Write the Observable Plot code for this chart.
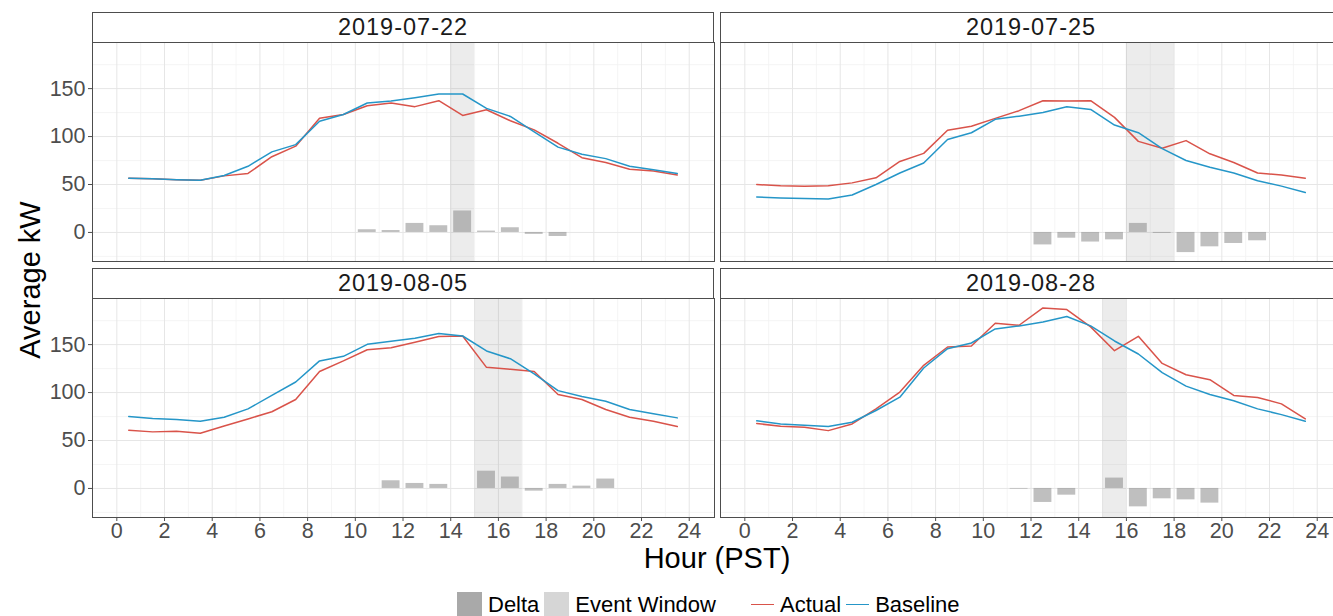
<!DOCTYPE html>
<html>
<head>
<meta charset="utf-8">
<script src="https://cdn.jsdelivr.net/npm/d3@7"></script>
<script src="https://cdn.jsdelivr.net/npm/@observablehq/plot@0.6"></script>
<style>
html, body { margin: 0; padding: 0; overflow: hidden; width: 1333px; height: 616px; background: #fff; }
body { position: relative; font-family: "Liberation Sans", Arial, sans-serif; }
.panel { position: absolute; }
.strip { position: absolute; box-sizing: border-box; border: 1px solid #4d4d4d; background: #fff;
  color: #1a1a1a; font-size: 23.5px; letter-spacing: 1px; text-align: center; line-height: 28px; }
.title { position: absolute; color: #000; font-size: 29px; line-height: 0.8; white-space: nowrap; }
.legend { position: absolute; left: 457px; top: 592px; height: 25px; display: flex; align-items: center;
  font-size: 22px; color: #000; white-space: nowrap; }
.sw { width: 25px; height: 25px; display: inline-block; }
.lk { width: 25px; height: 25px; display: inline-block; position: relative; }
.lk span { position: absolute; left: 1px; right: 1px; top: 12px; height: 1.2px; }
</style>
</head>
<body>
<script>
// ---------- data ----------
const hours = [0.5, 1.5, 2.5, 3.5, 4.5, 5.5, 6.5, 7.5, 8.5, 9.5, 10.5, 11.5,
               12.5, 13.5, 14.5, 15.5, 16.5, 17.5, 18.5, 19.5, 20.5, 21.5, 22.5, 23.5];
const dates = ["2019-07-22", "2019-07-25", "2019-08-05", "2019-08-28"];

const actual_0722   = [56.6, 56, 55, 54.5, 59, 61.5, 79, 90, 119, 123, 132.2, 135, 131.2, 137.4, 122, 128, 116.5, 107, 93, 78, 73, 66, 64, 60];
const baseline_0722 = [56.6, 56, 55, 54.5, 59.4, 69, 84, 91.6, 116, 123, 135, 137, 140.6, 144.4, 144.4, 129.4, 121, 105, 89, 81.5, 77, 69, 65.4, 61.5];
const deltaHours_0722 = [10.5, 11.5, 12.5, 13.5, 14.5, 15.5, 16.5, 17.5, 18.5];
const delta_0722      = [2.8, 2, 9.4, 7, 22.4, 1.4, 4.9, -2, -4.2];
const window_0722 = [14, 15];

const actual_0725   = [50, 48.6, 48.3, 48.6, 51.7, 57, 74, 82.5, 106.6, 110.8, 119, 127, 137.4, 137, 137.4, 120, 95, 87.8, 95.8, 82, 73, 62, 60, 56.6];
const baseline_0725 = [37, 36, 35.3, 35, 39, 50, 62, 72.4, 97, 104, 118, 121.3, 125, 131, 128.3, 112, 104, 87.4, 75, 68, 62, 54, 48.3, 41.6];
const deltaHours_0725 = [12.5, 13.5, 14.5, 15.5, 16.5, 17.5, 18.5, 19.5, 20.5, 21.5];
const delta_0725      = [-13, -6, -10, -7.7, 9.4, -1, -21, -15, -11.5, -8.7];
const window_0725 = [16, 18];

const actual_0805   = [60.7, 59, 59.6, 57.5, 65.2, 72.5, 80, 92.8, 122, 133, 144.7, 146.8, 152.4, 158.4, 159, 126.3, 124.2, 122, 98, 92.8, 82.3, 74.3, 70, 64.5];
const baseline_0805 = [75, 72.9, 71.9, 70, 74.3, 83, 97, 111, 133, 137.8, 150.3, 153.5, 156.6, 161.5, 159, 143.4, 135.3, 119.6, 102, 96, 91, 82.3, 78, 73.6];
const deltaHours_0805 = [11.5, 12.5, 13.5, 15.5, 16.5, 17.5, 18.5, 19.5, 20.5];
const delta_0805      = [8, 5.2, 4.2, 18, 11.9, -2.8, 4.2, 2.4, 9.8];
const window_0805 = [15, 17];

const actual_0828   = [67.7, 64.9, 63.8, 60.3, 67.3, 83, 100.5, 128.4, 147.5, 148.6, 172.3, 170.2, 188.3, 186.6, 168.5, 143.7, 158.7, 130.4, 118.6, 113.4, 97, 94.9, 88.2, 72.5];
const baseline_0828 = [70.5, 67.3, 65.9, 64.5, 69, 81.3, 95.2, 125.6, 145.8, 151.7, 166.4, 169.5, 173.7, 179.3, 169.5, 153.8, 140.2, 120.7, 106.7, 98, 91.4, 83, 77, 70.1];
const deltaHours_0828 = [11.5, 12.5, 13.5, 15.5, 16.5, 17.5, 18.5, 19.5];
const delta_0828      = [-0.7, -14.6, -7, 10.8, -19.2, -10.8, -11.9, -15.3];
const window_0828 = [15, 16];

const xTicks = [0, 2, 4, 6, 8, 10, 12, 14, 16, 18, 20, 22, 24];
const xMinor = [1, 3, 5, 7, 9, 11, 13, 15, 17, 19, 21, 23];
const yTicks = [0, 50, 100, 150];
const yMinor = [-25, 25, 75, 125, 175];

const seriesNames = ["Actual", "Baseline"];
const seriesColors = ["#d9534a", "#2596c8"];
const fillNames = ["Delta", "Event Window"];
const fillColors = ["#a9a9a9", "#d6d6d6"];

// ---------- layout ----------
const X_DOMAIN = [-1.02, 25.06];
const Y_DOMAIN = [-30.3, 198.1];
const PANEL_W = 622, PANEL_H = 219;
const COL_X = [92, 720];   // left edge of each panel's plot area
const ROW_Y = [42, 298];   // top edge of each panel's plot area
const STRIP_H = 30;

const panels = [
  {date: dates[0], actual: actual_0722, baseline: baseline_0722, dh: deltaHours_0722, dv: delta_0722, win: window_0722, row: 0, col: 0},
  {date: dates[1], actual: actual_0725, baseline: baseline_0725, dh: deltaHours_0725, dv: delta_0725, win: window_0725, row: 0, col: 1},
  {date: dates[2], actual: actual_0805, baseline: baseline_0805, dh: deltaHours_0805, dv: delta_0805, win: window_0805, row: 1, col: 0},
  {date: dates[3], actual: actual_0828, baseline: baseline_0828, dh: deltaHours_0828, dv: delta_0828, win: window_0828, row: 1, col: 1}
];

function makePanel(p) {
  const showY = p.col === 0, showX = p.row === 1;
  const mL = showY ? COL_X[0] : 0;
  const mB = showX ? 26 : 0;
  const rows = hours.map((h, i) => ({h, actual: p.actual[i], baseline: p.baseline[i]}));
  const bars = p.dh.map((h, i) => ({h, v: p.dv[i]}));
  return Plot.plot({
    width: mL + PANEL_W,
    height: PANEL_H + mB,
    marginLeft: mL, marginRight: 0, marginTop: 0, marginBottom: mB,
    x: {domain: X_DOMAIN, ticks: xTicks, tickSize: 4, tickPadding: 1, label: null, axis: showX ? "bottom" : null},
    y: {domain: Y_DOMAIN, ticks: yTicks, tickSize: 4, tickPadding: 3, label: null, axis: showY ? "left" : null},
    style: {fontFamily: "'Liberation Sans', Arial, sans-serif", fontSize: "21.5px", color: "#4d4d4d",
            background: "transparent", overflow: "visible", maxWidth: "none"},
    marks: [
      Plot.ruleX(xMinor, {stroke: "#f2f2f2", strokeWidth: 0.8}),
      Plot.ruleY(yMinor, {stroke: "#f2f2f2", strokeWidth: 0.8}),
      Plot.ruleX(xTicks, {stroke: "#e6e6e6", strokeWidth: 1}),
      Plot.ruleY(yTicks, {stroke: "#e6e6e6", strokeWidth: 1}),
      Plot.rect([p.win], {x1: d => d[0], x2: d => d[1], fill: "#808080", fillOpacity: 0.15}),
      Plot.rect(bars, {x1: d => d.h - 0.375, x2: d => d.h + 0.375, y1: 0, y2: "v", fill: "#808080", fillOpacity: 0.5}),
      Plot.line(rows, {x: "h", y: "actual", stroke: seriesColors[0], strokeWidth: 1.5}),
      Plot.line(rows, {x: "h", y: "baseline", stroke: seriesColors[1], strokeWidth: 1.5}),
      Plot.frame({stroke: "#4d4d4d", strokeWidth: 1})
    ]
  });
}

for (const p of panels) {
  const div = document.createElement("div");
  div.className = "panel";
  const left = p.col === 0 ? 0 : COL_X[1];
  div.style.left = left + "px";
  div.style.top = ROW_Y[p.row] + "px";
  div.style.width = ((p.col === 0 ? COL_X[0] : 0) + PANEL_W) + "px";
  div.appendChild(makePanel(p));
  document.body.appendChild(div);

  const strip = document.createElement("div");
  strip.className = "strip";
  strip.style.left = COL_X[p.col] + "px";
  strip.style.top = (ROW_Y[p.row] - STRIP_H) + "px";
  strip.style.width = PANEL_W + "px";
  strip.style.height = (STRIP_H + 1) + "px";
  strip.textContent = p.date;
  document.body.appendChild(strip);
}

// axis titles
const xt = document.createElement("div");
xt.className = "title";
xt.textContent = "Hour (PST)";
xt.style.left = "717px"; xt.style.top = "559px";
xt.style.transform = "translate(-50%, -50%)";
document.body.appendChild(xt);

const yt = document.createElement("div");
yt.className = "title";
yt.textContent = "Average kW";
yt.style.left = "31px"; yt.style.top = "280px";
yt.style.transform = "translate(-50%, -50%) rotate(-90deg)";
document.body.appendChild(yt);

// legend
const lg = document.createElement("div");
lg.className = "legend";
fillNames.forEach((n, i) => {
  const s = document.createElement("span"); s.className = "sw"; s.style.background = fillColors[i];
  s.style.marginRight = "6px";
  const t = document.createElement("span"); t.textContent = n; t.style.marginRight = i === 0 ? "5px" : "34px";
  lg.appendChild(s); lg.appendChild(t);
});
seriesNames.forEach((n, i) => {
  const s = document.createElement("span"); s.className = "lk";
  const ln = document.createElement("span"); ln.style.background = seriesColors[i]; s.appendChild(ln);
  s.style.marginRight = "5px";
  const t = document.createElement("span"); t.textContent = n; t.style.marginRight = "4px";
  lg.appendChild(s); lg.appendChild(t);
});
document.body.appendChild(lg);
</script>
</body>
</html>
